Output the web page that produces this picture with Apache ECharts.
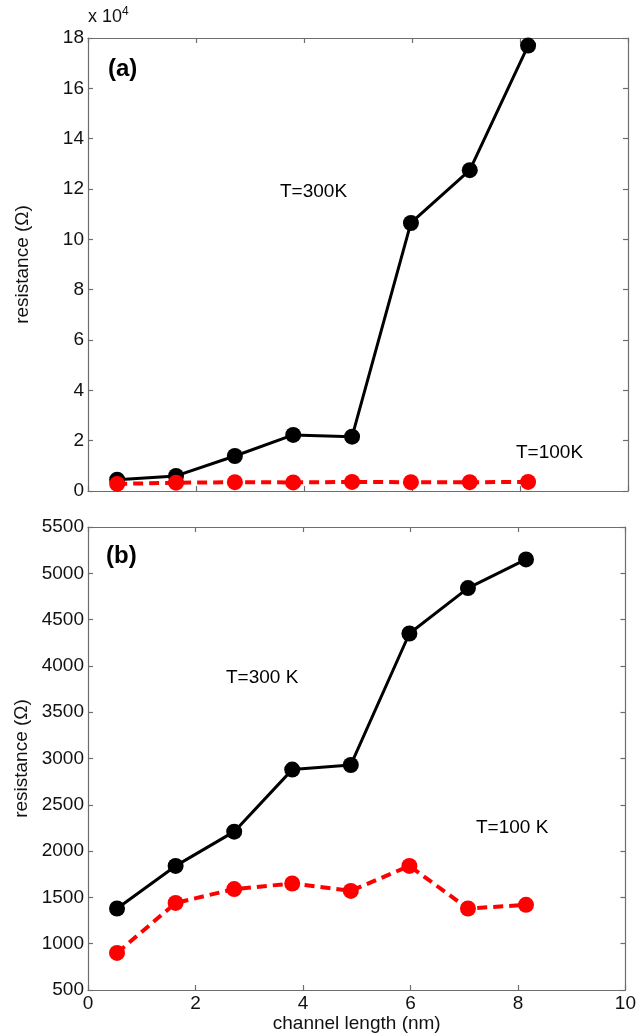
<!DOCTYPE html>
<html>
<head>
<meta charset="utf-8">
<script src="https://cdn.jsdelivr.net/npm/echarts@6/dist/echarts.min.js"></script>
<style>
html,body{margin:0;padding:0;background:#fff;}
#c{width:639px;height:1034px;}
</style>
</head>
<body>
<div id="c"></div>
<script>
// channel length (nm)
var lengths = [0.54, 1.63, 2.72, 3.8, 4.89, 5.98, 7.07, 8.15];
// panel (a) resistance (Ohm)
var a300 = [4500, 6000, 13900, 22300, 21600, 106500, 127500, 177000];
var a100 = [2800, 3300, 3500, 3400, 3600, 3500, 3500, 3600];
// panel (b) resistance (Ohm)
var b300 = [1380, 1840, 2210, 2880, 2930, 4350, 4840, 5150];
var b100 = [900, 1440, 1590, 1650, 1570, 1840, 1380, 1420];
var xTicks = [0, 2, 4, 6, 8, 10];

function pairs(ys){ return lengths.map(function(x,i){ return [x, ys[i]]; }); }

var FONT = 'Liberation Sans, Arial, sans-serif';
var FS = 19;
var axisLineStyle = {color:'#6e6e6e', width:1.2};
function xa(grid, pos, labels){
  return {type:'value', gridIndex:grid, position:pos, min:0, max:10, interval:2,
    axisLine:{show:true, onZero:false, lineStyle:axisLineStyle},
    axisTick:{show:true, inside:true, length:5, lineStyle:axisLineStyle},
    axisLabel:{show:labels, color:'#111', fontFamily:FONT, fontSize:FS, margin:4,
      formatter:function(v){return xTicks.indexOf(v)>=0? String(v):'';}},
    splitLine:{show:false},
    name: (labels ? 'channel length (nm)' : ''), nameLocation:'middle', nameGap:24,
    nameTextStyle:{color:'#111', fontFamily:FONT, fontSize:FS}};
}
function ya(grid, pos, labels, min, max, interval, fmt){
  return {type:'value', gridIndex:grid, position:pos, min:min, max:max, interval:interval,
    axisLine:{show:true, onZero:false, lineStyle:axisLineStyle},
    axisTick:{show:true, inside:true, length:5, lineStyle:axisLineStyle},
    axisLabel:{show:labels, color:'#111', fontFamily:FONT, fontSize:FS, margin:4, formatter:fmt},
    splitLine:{show:false},
    name: (labels ? 'resistance (\u03A9)' : ''), nameLocation:'middle', nameGap:56,
    nameTextStyle:{color:'#111', fontFamily:FONT, fontSize:FS}};
}
function solid(xi, yi, data){
  return {type:'line', xAxisIndex:xi, yAxisIndex:yi, data:data, symbol:'circle', symbolSize:16,
    lineStyle:{color:'#000', width:3}, itemStyle:{color:'#000'}, animation:false, z:3};
}
function dashed(xi, yi, data){
  return {type:'line', xAxisIndex:xi, yAxisIndex:yi, data:data, symbol:'circle', symbolSize:16,
    lineStyle:{color:'#ff0000', width:4, type:[10,6]}, itemStyle:{color:'#ff0000'}, animation:false, z:4};
}

var chart = echarts.init(document.getElementById('c'), null, {renderer:'canvas'});
chart.setOption({
  backgroundColor:'#ffffff',
  animation:false,
  grid:[
    {left:88, top:38, width:540, height:453},
    {left:88, top:527, width:540, height:473}
  ],
  xAxis:[xa(0,'bottom',false), xa(0,'top',false), xa(1,'bottom',true), xa(1,'top',false)],
  yAxis:[
    ya(0,'left',true,0,180000,20000,function(v){return String(v/10000);}),
    ya(0,'right',false,0,180000,20000),
    ya(1,'left',true,500,5500,500,function(v){return String(v);}),
    ya(1,'right',false,500,5500,500)
  ],
  series:[
    solid(0,0,pairs(a300)), dashed(0,0,pairs(a100)),
    solid(2,2,pairs(b300)), dashed(2,2,pairs(b100))
  ],
  graphic:[
    {type:'text', left:88, top:6, style:{rich:{a:{fontFamily:FONT,fontSize:FS-1,fill:'#111'},s:{fontFamily:FONT,fontSize:12,fill:'#111',verticalAlign:'top',padding:[0,0,10,0]}}, text:'{a|x 10}{s|4}'}},
    {type:'text', left:108, top:57, style:{text:'(a)', fontFamily:FONT, fontSize:24, fontWeight:'bold', fill:'#000'}},
    {type:'text', left:280, top:182, style:{text:'T=300K', fontFamily:FONT, fontSize:FS, fill:'#000'}},
    {type:'text', left:516, top:443, style:{text:'T=100K', fontFamily:FONT, fontSize:FS, fill:'#000'}},
    {type:'text', left:106, top:544, style:{text:'(b)', fontFamily:FONT, fontSize:24, fontWeight:'bold', fill:'#000'}},
    {type:'text', left:226, top:668, style:{text:'T=300 K', fontFamily:FONT, fontSize:FS, fill:'#000'}},
    {type:'text', left:476, top:818, style:{text:'T=100 K', fontFamily:FONT, fontSize:FS, fill:'#000'}}
  ]
});
</script>
</body>
</html>
